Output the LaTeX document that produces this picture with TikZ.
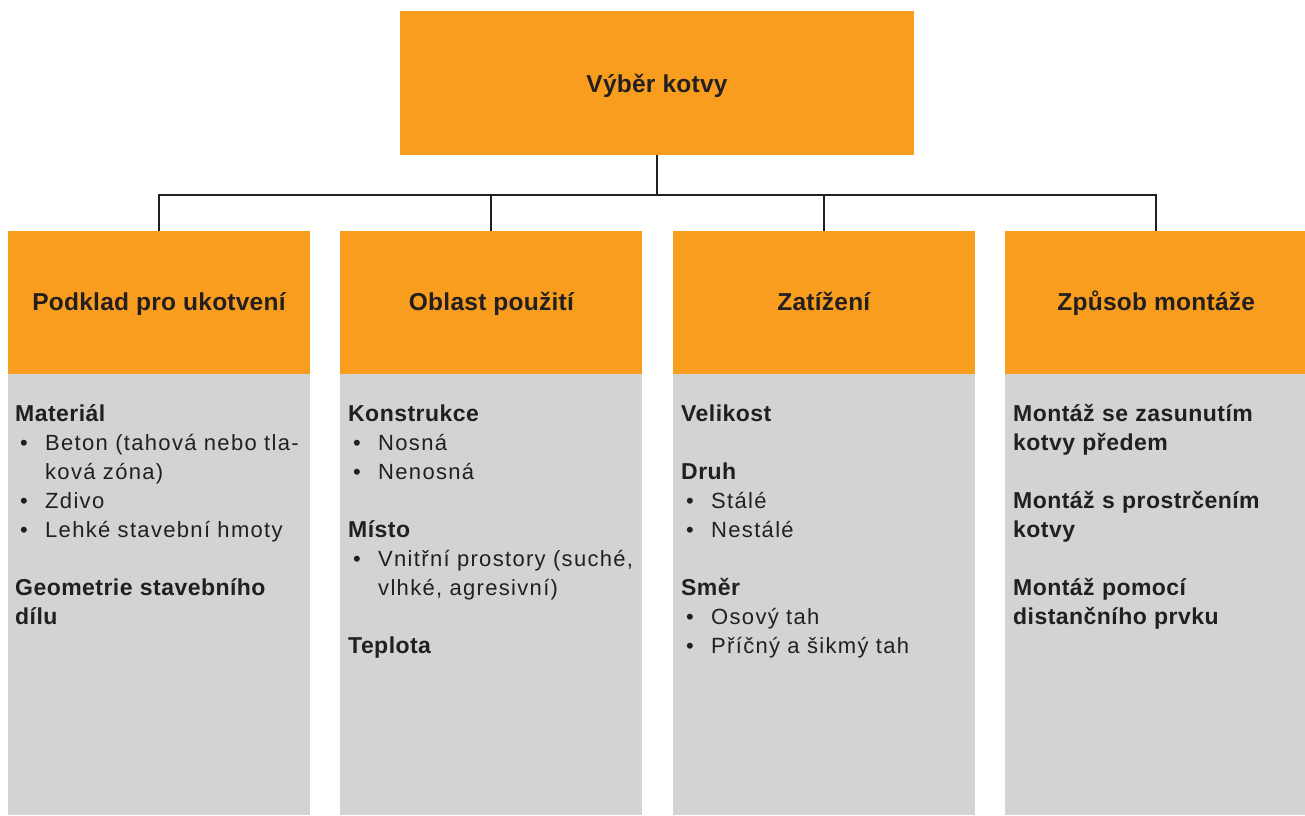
\documentclass[tikz,border=0pt]{standalone}
\usepackage{fontspec}
\setmainfont{Liberation Sans}
\newfontfamily\bodyfont{Liberation Sans}[LetterSpace=6]
\newfontfamily\boldfont{Liberation Sans}[LetterSpace=2]
\newfontfamily\titlefont{Liberation Sans}[LetterSpace=1]
\usetikzlibrary{positioning}
\definecolor{orangebox}{HTML}{F89D1E}
\definecolor{panelgray}{HTML}{D1D3D4}
\definecolor{ink}{HTML}{231F20}
\newcommand{\hd}[1]{{\boldfont\bfseries\fontsize{23}{29}\selectfont #1}}
\newcommand{\itm}[1]{\makebox[30pt][l]{\hspace{5pt}•}#1}

\begin{document}
\begin{tikzpicture}[x=1pt,y=-1pt,
    root/.style={fill=orangebox, minimum width=514pt, minimum height=144pt, inner sep=0pt, text height=21pt, text depth=3pt, text=ink, font=\titlefont\bfseries\fontsize{24.5}{29}\selectfont},
    head/.style={fill=orangebox, minimum width=302pt, minimum height=143pt, inner sep=0pt, text height=19pt, text depth=4pt, text=ink, font=\titlefont\bfseries\fontsize{24.5}{29}\selectfont},
    panel/.style={fill=panelgray, minimum width=302pt, minimum height=441pt, inner sep=0pt},
    txt/.style={anchor=base west, text width=300pt, align=left, inner sep=0pt, text=ink, font=\bodyfont\fontsize{22}{29}\selectfont},
    link/.style={draw=ink, line width=2pt}]

\useasboundingbox (0,0) rectangle (1305,815);

\node[root] (vyber) at (657,83) {Výběr kotvy};

\node[head] (podklad) at (159,302.5) {Podklad pro ukotvení};
\node[head, right=30pt of podklad] (oblast) {Oblast použití};
\node[head, right=30pt of oblast] (zatizeni) {Zatížení};
\node[head, right=30pt of zatizeni] (zpusob) {Způsob montáže};

\node[panel, below=0pt of podklad] (podkladP) {};
\node[panel, below=0pt of oblast] (oblastP) {};
\node[panel, below=0pt of zatizeni] (zatizeniP) {};
\node[panel, below=0pt of zpusob] (zpusobP) {};

\foreach \col in {podklad,oblast,zatizeni,zpusob}
  \draw[link] (vyber.south) -- ++(0,40) -| (\col.north);

\node[txt] (podkladT) at (15,421) {\hd{Materiál}\\
  \itm{Beton (tahová nebo tla-}\\
  \hspace*{30pt}ková zóna)\\
  \itm{Zdivo}\\
  \itm{Lehké stavební hmoty}\\[29pt]
  \hd{Geometrie stavebního}\\
  \hd{dílu}};

\node[txt] (oblastT) at (348,421) {\hd{Konstrukce}\\
  \itm{Nosná}\\
  \itm{Nenosná}\\[29pt]
  \hd{Místo}\\
  \itm{Vnitřní prostory (suché,}\\
  \hspace*{30pt}vlhké, agresivní)\\[29pt]
  \hd{Teplota}};

\node[txt] (zatizeniT) at (681,421) {\hd{Velikost}\\[29pt]
  \hd{Druh}\\
  \itm{Stálé}\\
  \itm{Nestálé}\\[29pt]
  \hd{Směr}\\
  \itm{Osový tah}\\
  \itm{Příčný a šikmý tah}};

\node[txt] (zpusobT) at (1013,421) {\hd{Montáž se zasunutím}\\
  \hd{kotvy předem}\\[29pt]
  \hd{Montáž s prostrčením}\\
  \hd{kotvy}\\[29pt]
  \hd{Montáž pomocí}\\
  \hd{distančního prvku}};
\end{tikzpicture}
\end{document}
